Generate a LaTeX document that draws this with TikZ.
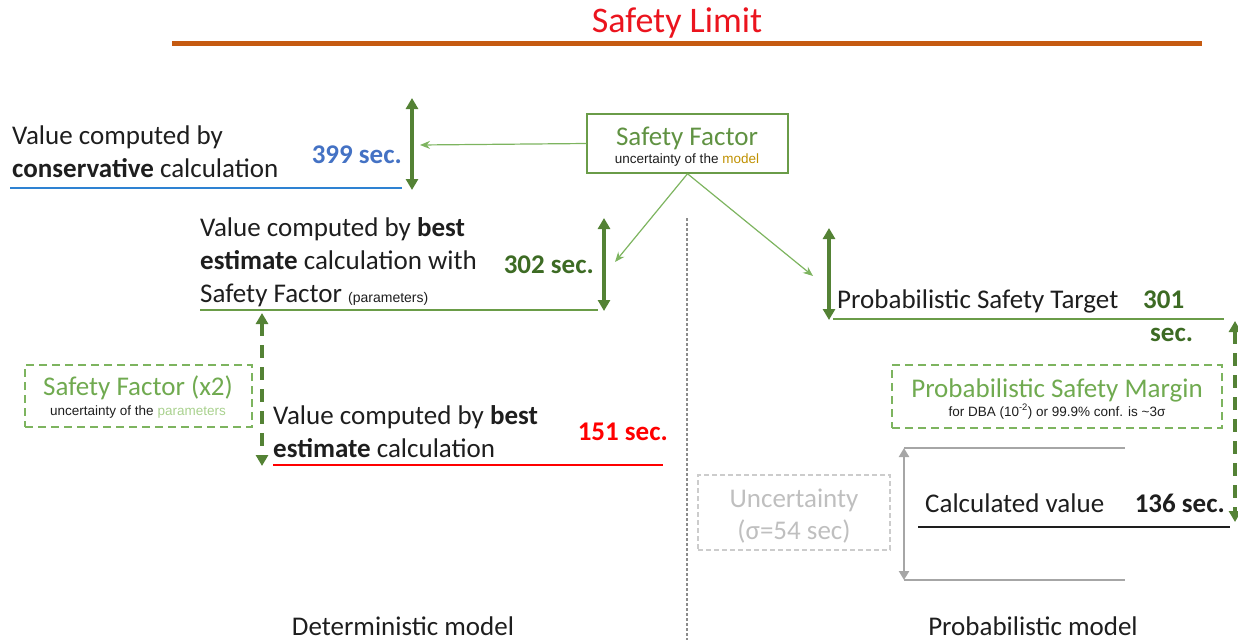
\documentclass[tikz,border=0pt]{standalone}
\usepackage{fontspec}
\setmainfont{Carlito}
\newfontfamily\arialf{Liberation Sans}
\usetikzlibrary{arrows.meta}
\definecolor{dgreen}{RGB}{84,130,53}
\definecolor{tgreen}{RGB}{61,107,36}
\definecolor{bgreen}{RGB}{106,156,72}
\definecolor{sfgreen}{RGB}{96,146,66}
\definecolor{lgreen}{RGB}{125,180,95}
\definecolor{ltgreen}{RGB}{112,170,80}
\definecolor{pgreen}{RGB}{169,209,142}
\definecolor{gold}{RGB}{191,144,0}
\definecolor{sorange}{RGB}{197,90,17}
\definecolor{sred}{RGB}{235,20,30}
\definecolor{vred}{RGB}{255,0,0}
\definecolor{sblue}{RGB}{68,114,196}
\definecolor{lblue}{RGB}{46,130,210}
\definecolor{mgray}{RGB}{166,166,166}
\definecolor{lgray}{RGB}{191,191,191}
\definecolor{dotgray}{RGB}{140,140,140}
\definecolor{txt}{RGB}{30,30,30}
\begin{document}
\begin{tikzpicture}[x=1pt,y=-1pt,
  big/.style={font=\fontsize{27}{33}\selectfont, inner sep=0pt, text=txt},
  small/.style={font=\arialf\fontsize{13.5}{16}\selectfont, inner sep=0pt, text=txt},
  garrow/.style={draw=dgreen, line width=3.5pt, {Triangle[width=12pt,length=11pt]}-{Triangle[width=12pt,length=11pt]}},
  gdarrow/.style={garrow, line width=4pt, dash pattern=on 13pt off 9pt},
  thinarrow/.style={draw=lgreen, line width=1.2pt, -{Stealth[length=10pt,width=8pt]}},
  dashbox/.style={draw=lgreen, line width=2pt, dash pattern=on 8pt off 5pt, inner sep=0pt},
  level/.style={line width=2.2pt},
]
\useasboundingbox (0,0) rectangle (1238,640);

% title
\node[font=\fontsize{36}{36}\selectfont, text=sred, inner sep=0pt, anchor=base] (title) at (677,32) {Safety Limit};
\coordinate (limL) at (172,43);
\coordinate (limR) at (1202,43);
\draw[sorange, line width=5pt] (limL) -- (limR);

% conservative
\node[big, anchor=north west, align=left] (conv) at (12,126) {Value computed by\\\textbf{conservative} calculation};
\node[big, text=sblue, anchor=base east] (v399) at (402,163) {\textbf{399 sec.}};
\coordinate (blueL) at (10,188);
\coordinate (blueR) at (402,188);
\draw[lblue, level] (blueL) -- (blueR);
\coordinate (a1t) at (412,98);
\coordinate (a1b) at (412,190);
\draw[garrow] (a1t) -- (a1b);

% safety factor box
\node[draw=bgreen, line width=1.5pt, minimum width=201pt, minimum height=59pt, inner sep=0pt] (sf) at (687.5,143.5) {};
\node[big, text=sfgreen, anchor=base] (sft) at (687,145) {Safety Factor};
\node[small, anchor=base] (sfs) at (687,163) {uncertainty of the \textcolor{gold}{model}};
\coordinate (sfl) at (420,145);
\coordinate (sfa) at (615,262);
\coordinate (sfb) at (813,276);
\draw[thinarrow] (sf.west) -- (sfl);
\draw[thinarrow] (sf.south) -- (sfa);
\draw[thinarrow] (sf.south) -- (sfb);

% divider
\coordinate (divT) at (687,218);
\coordinate (divB) at (687,640);
\draw[dotgray, line width=1.5pt, dash pattern=on 2.5pt off 2.5pt] (divT) -- (divB);

% best estimate with SF
\node[big, font=\fontsize{27}{33}\selectfont, anchor=north west, align=left] (bsf) at (200,217) {Value computed by \textbf{best}\\\textbf{estimate} calculation with\\Safety Factor {\arialf\fontsize{14}{14}\selectfont (parameters)}};
\node[big, text=tgreen, anchor=base east] (v302) at (594,273) {\textbf{302 sec.}};
\coordinate (gL) at (200,310);
\coordinate (gR) at (598,310);
\draw[bgreen, level] (gL) -- (gR);
\coordinate (a2t) at (604,218);
\coordinate (a2b) at (604,311);
\draw[garrow] (a2t) -- (a2b);

% SF x2
\coordinate (a3t) at (262,313);
\coordinate (a3b) at (262,466);
\draw[gdarrow] (a3t) -- (a3b);
\node[dashbox, minimum width=227pt, minimum height=62pt] (sf2) at (138.5,396) {};
\node[big, text=ltgreen, anchor=base] (sf2t) at (138,395) {Safety Factor (x2)};
\node[small, anchor=base] (sf2s) at (138,415) {uncertainty of the \textcolor{pgreen}{parameters}};

% best estimate
\node[big, anchor=north west, align=left] (be) at (273,405) {Value computed by \textbf{best}\\\textbf{estimate} calculation};
\node[big, text=vred, anchor=base east] (v151) at (668,440) {\textbf{151 sec.}};
\coordinate (rL) at (273,465);
\coordinate (rR) at (663,465);
\draw[vred, level] (rL) -- (rR);

% probabilistic target
\coordinate (a4t) at (829,228);
\coordinate (a4b) at (829,320);
\draw[garrow] (a4t) -- (a4b);
\node[big, anchor=base west] (pst) at (837,308) {Probabilistic Safety Target};
\node[big, text=tgreen, anchor=base west] (v301) at (1143,308) {\textbf{301}};
\node[big, text=tgreen, anchor=base west] (v301s) at (1150,341) {\textbf{sec.}};
\coordinate (pL) at (833,319);
\coordinate (pR) at (1224,319);
\draw[bgreen, level] (pL) -- (pR);
\coordinate (a5t) at (1235,321);
\coordinate (a5b) at (1235,522);
\draw[gdarrow] (a5t) -- (a5b);

% probabilistic safety margin
\node[dashbox, minimum width=330pt, minimum height=63pt] (psm) at (1057,396.5) {};
\node[big, text=ltgreen, anchor=base] (psmt) at (1057,397) {Probabilistic Safety Margin};
\node[small, anchor=base] (psms) at (1057,416) {for DBA (10\textsuperscript{-2}) or 99.9\% conf. is \textasciitilde3σ};

% uncertainty
\coordinate (uT1) at (904,448);
\coordinate (uT2) at (1125,448);
\coordinate (uB1) at (904,580);
\coordinate (uB2) at (1125,580);
\draw[mgray, line width=2pt] (uT1) -- (uT2);
\draw[mgray, line width=2pt] (uB1) -- (uB2);
\draw[mgray, line width=2.5pt, {Triangle[width=10pt,length=9pt]}-{Triangle[width=10pt,length=9pt]}] (uT1) -- (uB1);
\node[draw=lgray!80, line width=1.2pt, dash pattern=on 5pt off 3pt, minimum width=192pt, minimum height=75pt, inner sep=0pt] (unc) at (794,512.5) {};
\node[big, text=lgray, anchor=base] (unct) at (794,507) {Uncertainty};
\node[big, text=lgray, anchor=base] (uncs) at (794,539) {(σ=54 sec)};

% calculated value
\node[big, anchor=base west] (cv) at (925,512) {Calculated value};
\node[big, anchor=base east] (v136) at (1225,512) {\textbf{136 sec.}};
\coordinate (kL) at (918,527);
\coordinate (kR) at (1230,527);
\draw[txt, level] (kL) -- (kR);

% bottom labels
\node[big, anchor=base] (det) at (403,635) {Deterministic model};
\node[big, anchor=base] (prob) at (1033,635) {Probabilistic model};
\end{tikzpicture}
\end{document}
